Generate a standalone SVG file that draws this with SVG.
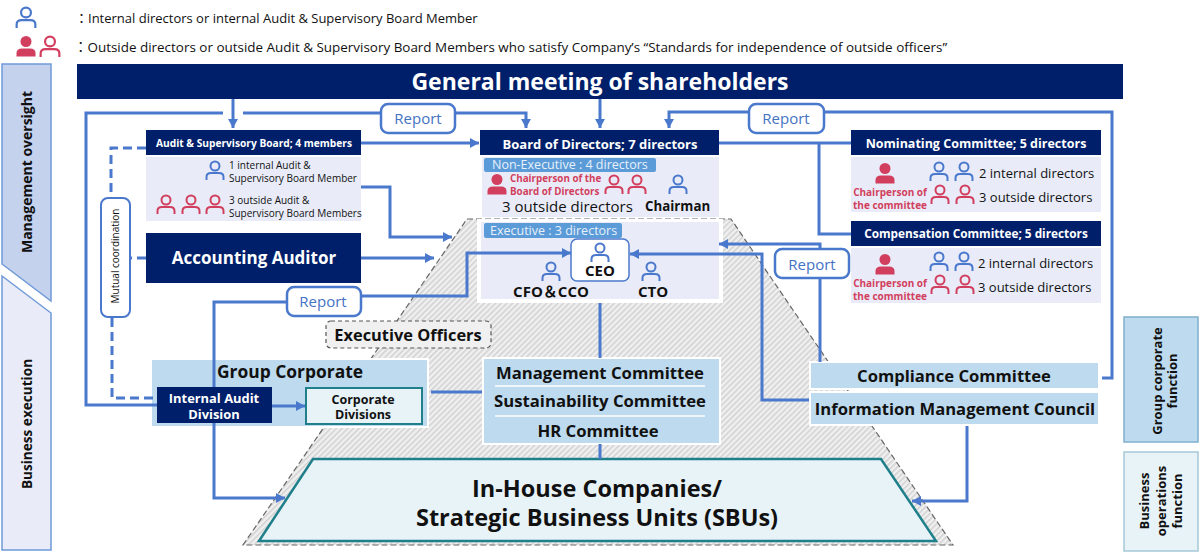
<svg xmlns="http://www.w3.org/2000/svg" width="1200" height="553" viewBox="0 0 1200 553">
<style>
text{font-family:"Open Sans","Noto Sans","Noto Sans CJK JP","Liberation Sans",sans-serif;fill:#111}
.b{font-weight:700}
text.w{fill:#fff}
.c{text-anchor:middle}
text.r{fill:#d23f5e}
text.bl{fill:#4472c4}
text.lt{fill:#e8f0fa}
.ln{fill:none;stroke:#4a78cc;stroke-width:3}
.da{fill:none;stroke:#4a78cc;stroke-width:3;stroke-dasharray:9 5}
.navy{fill:#001f6b}
.lav{fill:#e9ecf8}
.lb{fill:#bddaee;stroke:#fff;stroke-width:2}
.rep{fill:#fff;stroke:#4a78cc;stroke-width:2.5}
.pill{fill:#5b9bd8}
.pi{fill:none;stroke:#4a78cc;stroke-width:2}
.pr{fill:none;stroke:#d23f5e;stroke-width:2}
.ps{fill:#d23f5e}
</style>
<defs>
<marker id="a" markerUnits="userSpaceOnUse" markerWidth="10" markerHeight="12" refX="9" refY="6" orient="auto"><path d="M0 1L9 6L0 11Z" fill="#4a78cc"/></marker>
<pattern id="h" width="4" height="4" patternUnits="userSpaceOnUse" patternTransform="rotate(-45)"><rect width="4" height="4" fill="#f0f0f0"/><rect width="4" height="1.6" fill="#d2d2d2"/></pattern>
<g id="p"><circle cx="0" cy="-5" r="4.5"/><path d="M-8.5 9V6Q-8.5 2-4 2H4Q8.5 2 8.5 6V9"/></g>
<g id="ps"><circle cx="0" cy="-5.5" r="5.5"/><path d="M-9.5 9.5V6Q-9.5 1.5-4 1.5H4Q9.5 1.5 9.5 6V9.5Z"/></g>
</defs>
<g id="legend">
<use href="#p" transform="translate(26 18) scale(1.1)" class="pi"/>
<use href="#ps" transform="translate(26 47)" class="ps"/>
<use href="#p" transform="translate(50 47) scale(1.1)" class="pr"/>
<text x="75" y="23" font-size="13">：Internal directors or internal Audit &amp; Supervisory Board Member</text>
<text x="74" y="52" font-size="13.45">：Outside directors or outside Audit &amp; Supervisory Board Members who satisfy Company’s “Standards for independence of outside officers”</text>
</g>
<g id="side-labels">
<path d="M2 64H51V301L2 264Z" fill="#c5d2ee" stroke="#6f9ad8" stroke-width="1.5"/>
<path d="M2 276L51 313V550H2Z" fill="#e9ecf8" stroke="#6f9ad8" stroke-width="1.5"/>
<text transform="translate(32 172) rotate(-90)" class="b c" font-size="14">Management oversight</text>
<text transform="translate(32 424) rotate(-90)" class="b c" font-size="13.6">Business execution</text>
<rect x="1124" y="317" width="74" height="125" fill="#bddaee" stroke="#7fb0cc" stroke-width="1.5"/>
<rect x="1124" y="452" width="74" height="99" fill="#e8f3f8" stroke="#a5c8d8" stroke-width="1.5"/>
<text transform="translate(1161 381) rotate(-90)" class="b c" font-size="13"><tspan x="0" y="1">Group corporate</tspan><tspan x="0" y="16">function</tspan></text>
<text transform="translate(1161 501) rotate(-90)" class="b c" font-size="13"><tspan x="0" y="-12">Business</tspan><tspan x="0" y="5">operations</tspan><tspan x="0" y="21">function</tspan></text>
</g>
<g id="pyramid"><path d="M467 219H731L953 545H243Z" fill="url(#h)" stroke="#666" stroke-width="1.2" stroke-dasharray="6 3"/></g>
<g id="shareholders"><rect x="77" y="64" width="1046" height="35" class="navy"/><text x="600" y="90" class="b w c" font-size="23">General meeting of shareholders</text></g>
<g id="audit-board">
<rect x="146" y="130" width="215" height="25" class="navy"/><text x="254" y="147" class="b w c" font-size="10.2">Audit &amp; Supervisory Board; 4 members</text>
<rect x="146" y="157" width="215" height="64" class="lav"/>
<use href="#p" x="215" y="171" class="pi"/>
<text font-size="10"><tspan x="229" y="169">1 internal Audit &amp;</tspan><tspan x="229" y="182">Supervisory Board Member</tspan></text>
<use href="#p" x="166" y="205" class="pr"/><use href="#p" x="191" y="205" class="pr"/><use href="#p" x="215" y="205" class="pr"/>
<text font-size="10"><tspan x="229" y="204">3 outside Audit &amp;</tspan><tspan x="229" y="217">Supervisory Board Members</tspan></text>
</g>
<g id="accounting-auditor"><rect x="146" y="233" width="215" height="50" class="navy"/><text x="254" y="264" class="b w c" font-size="17">Accounting Auditor</text></g>
<g id="board">
<rect x="480" y="130" width="239" height="25" class="navy"/><text x="600" y="149" class="b w c" font-size="13">Board of Directors; 7 directors</text>
<rect x="477" y="219" width="246" height="84" fill="#fff"/>
<rect x="482" y="157" width="237" height="60" class="lav"/>
<rect x="484" y="158" width="172" height="14" rx="2" class="pill"/><text x="492" y="169" class="lt" font-size="12.5">Non-Executive : 4 directors</text>
<use href="#ps" x="497" y="185" class="ps"/>
<text class="b r" font-size="9.8"><tspan x="510" y="182">Chairperson of the</tspan><tspan x="510" y="195">Board of Directors</tspan></text>
<use href="#p" x="614" y="185" class="pr"/><use href="#p" x="637" y="185" class="pr"/><use href="#p" x="678" y="185" class="pi"/>
<text x="502" y="212" font-size="15">3 outside directors</text>
<text x="645" y="211" class="b" font-size="13.3">Chairman</text>
<rect x="481" y="222" width="238" height="77" class="lav"/>
<rect x="484" y="223" width="138" height="15" rx="2" class="pill"/><text x="490" y="235" class="lt" font-size="12.5">Executive : 3 directors</text>
</g>
<g id="ceo"><rect x="571" y="239" width="58" height="42" rx="6" fill="#fff" stroke="#4a78cc" stroke-width="1.5"/><use href="#p" x="600" y="253" class="pi"/><text x="600" y="276" class="b c" font-size="15">CEO</text></g>
<g id="cfo"><use href="#p" x="551" y="272" class="pi"/><text x="551" y="297" class="b c" font-size="15">CFO＆CCO</text></g>
<g id="cto"><use href="#p" x="651" y="272" class="pi"/><text x="653" y="297" class="b c" font-size="15">CTO</text></g>
<g id="nominating">
<rect x="851" y="130" width="250" height="25" class="navy"/><text x="976" y="148" class="b w c" font-size="12.5">Nominating Committee; 5 directors</text>
<rect x="851" y="157" width="250" height="55" class="lav"/>
<use href="#ps" x="885" y="174" class="ps"/>
<text class="b c r" font-size="10"><tspan x="890" y="196">Chairperson of</tspan><tspan x="890" y="209">the committee</tspan></text>
<use href="#p" x="939" y="172" class="pi"/><use href="#p" x="964" y="172" class="pi"/>
<use href="#p" x="940" y="195" class="pr"/><use href="#p" x="965" y="195" class="pr"/>
<text x="979" y="178" font-size="13">2 internal directors</text><text x="979" y="202" font-size="13">3 outside directors</text>
</g>
<g id="compensation">
<rect x="851" y="221" width="250" height="25" class="navy"/><text x="976" y="238" class="b w c" font-size="11.8">Compensation Committee; 5 directors</text>
<rect x="851" y="248" width="250" height="55" class="lav"/>
<use href="#ps" x="885" y="265" class="ps"/>
<text class="b c r" font-size="10"><tspan x="890" y="287">Chairperson of</tspan><tspan x="890" y="300">the committee</tspan></text>
<use href="#p" x="939" y="262" class="pi"/><use href="#p" x="964" y="262" class="pi"/>
<use href="#p" x="940" y="285" class="pr"/><use href="#p" x="965" y="285" class="pr"/>
<text x="978" y="268" font-size="13">2 internal directors</text><text x="978" y="292" font-size="13">3 outside directors</text>
</g>
<g id="group-corporate">
<rect x="151" y="359" width="277" height="68" class="lb"/>
<text x="290" y="378" class="b c" font-size="17.4">Group Corporate</text>
</g>
<g id="corporate-divisions">
<rect x="306" y="388" width="116" height="36" fill="#e8f3f8" stroke="#1f7f8a" stroke-width="2"/>
<text class="b c" font-size="12.5"><tspan x="363" y="403.5">Corporate</tspan><tspan x="363" y="419">Divisions</tspan></text>
</g>
<g id="committees">
<rect x="483" y="358" width="237" height="86" class="lb"/>
<text x="600" y="379" class="b c" font-size="16.7">Management Committee</text>
<path d="M495 386H705M495 416H705" stroke="#fff" stroke-width="1.5"/>
<text x="600" y="407" class="b c" font-size="16.7">Sustainability Committee</text>
<text x="598" y="437" class="b c" font-size="16.7">HR Committee</text>
</g>
<g id="compliance"><rect x="810" y="362" width="289" height="27" class="lb"/><text x="954" y="382" class="b c" font-size="16.6">Compliance Committee</text></g>
<g id="info-council"><rect x="810" y="392" width="289" height="33" class="lb"/><text x="955" y="415" class="b c" font-size="16.6">Information Management Council</text></g>
<g id="in-house"><path d="M313 459H881L936 541H259Z" fill="#e8f3f8" stroke="#1f7f8a" stroke-width="2.5"/>
<text class="b c" font-size="23.5"><tspan x="597" y="497">In-House Companies/</tspan><tspan x="597" y="526">Strategic Business Units (SBUs)</tspan></text></g>
<g id="connectors">
<path class="ln" d="M233 99V128" marker-end="url(#a)"/>
<path class="ln" d="M600 99V128" marker-end="url(#a)"/>
<path class="ln" d="M157 405H86V113H223"/>
<path class="ln" d="M243 113H526V128" marker-end="url(#a)"/>
<path class="ln" d="M1102 378H1112V112H669V128" marker-end="url(#a)"/>
<path class="ln" d="M361 143H479" marker-end="url(#a)"/>
<path class="ln" d="M361 187H390V237H452" marker-end="url(#a)"/>
<path class="ln" d="M361 258H434" marker-end="url(#a)"/>
<path class="ln" d="M719 143H851"/>
<path class="ln" d="M819 143V234H851"/>
<path class="ln" d="M820 362V244H719" marker-end="url(#a)"/>
<path class="ln" d="M809 400H762V254H630" marker-end="url(#a)"/>
<path class="ln" d="M361 296H467V253H571" marker-end="url(#a)"/>
<path class="ln" d="M287 302H214V498H285" marker-end="url(#a)"/>
<path class="ln" d="M600 303V358M600 444V459"/>
<path class="ln" d="M431 392H482"/>
<path class="ln" d="M272 406H305" marker-end="url(#a)"/>
<path class="ln" d="M967 426V501H912" marker-end="url(#a)"/>
<path class="da" d="M146 148H111V198"/>
<path class="da" d="M146 258H130"/>
<path class="da" d="M112 318V398H157"/>
</g>
<g id="internal-audit">
<rect x="157" y="387" width="115" height="36" class="navy"/>
<text class="b w c" font-size="12.9"><tspan x="214" y="403">Internal Audit</tspan><tspan x="214" y="418.6">Division</tspan></text>
</g>
<g id="mutual"><rect x="101" y="198" width="29" height="119" rx="7" fill="#fff" stroke="#4a78cc" stroke-width="2"/><text transform="translate(119 256) rotate(-90)" class="c" font-size="10">Mutual coordination</text></g>
<g id="report-1"><rect x="381" y="104" width="74" height="29" rx="7" class="rep"/><text x="418" y="124" class="c bl" font-size="15">Report</text></g>
<g id="report-2"><rect x="749" y="104" width="75" height="29" rx="7" class="rep"/><text x="786" y="124" class="c bl" font-size="15">Report</text></g>
<g id="report-3"><rect x="775" y="249" width="74" height="29" rx="7" class="rep"/><text x="812" y="270" class="c bl" font-size="15">Report</text></g>
<g id="report-4"><rect x="287" y="287" width="74" height="29" rx="7" class="rep"/><text x="323" y="307" class="c bl" font-size="15">Report</text></g>
<g id="executive-officers"><rect x="326" y="321" width="165" height="27" rx="5" fill="#f0f0f0" stroke="#555" stroke-width="1.2" stroke-dasharray="4 3"/><text x="408" y="341" class="b c" font-size="16.4">Executive Officers</text></g>
</svg>
